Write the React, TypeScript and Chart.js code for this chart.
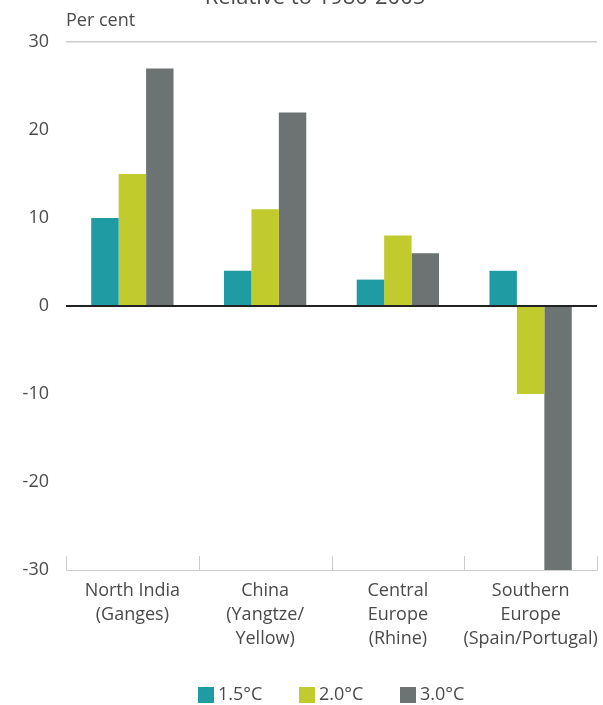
import React, { useEffect, useRef } from "react";
import { Chart, registerables } from "chart.js";

Chart.register(...registerables);

const categories: string[][] = [
  ["North India", "(Ganges)"],
  ["China", "(Yangtze/", "Yellow)"],
  ["Central", "Europe", "(Rhine)"],
  ["Southern", "Europe", "(Spain/Portugal)"],
];
const seriesNames = ["1.5°C", "2.0°C", "3.0°C"];
const values15 = [10, 4, 3, 4];
const values20 = [15, 11, 8, -10];
const values30 = [27, 22, 6, -30];
const yTicks = [-30, -20, -10, 0, 10, 20, 30];
const titleText = "Relative to 1980-2005";
const unitText = "Per cent";

const colors = ["#1f9ba3", "#c1cb2d", "#6d7372"];
const FONT = "'Open Sans', 'Noto Sans', sans-serif";
const TEXT = "#4a4a4a";

const extras = {
  id: "extras",
  afterDraw(chart: any) {
    const { ctx, chartArea, scales } = chart;
    ctx.save();
    // title (cut off at top)
    ctx.fillStyle = TEXT;
    ctx.font = `22px ${FONT}`;
    ctx.textAlign = "center";
    ctx.textBaseline = "alphabetic";
    ctx.fillText(titleText, 315, 4);
    // unit label
    ctx.font = `18px ${FONT}`;
    ctx.textAlign = "left";
    ctx.textBaseline = "middle";
    ctx.fillText(unitText, chartArea.left, 21);
    // category separator ticks going up from the bottom axis
    const x = scales.x;
    ctx.strokeStyle = "#cccccc";
    ctx.lineWidth = 1;
    const n = categories.length;
    const step = x.getPixelForTick(1) - x.getPixelForTick(0);
    for (let i = 0; i <= n; i++) {
      const px = i < n ? x.getPixelForTick(i) - step / 2 : chartArea.right;
      const xx = Math.round(px) + 0.5;
      ctx.beginPath();
      ctx.moveTo(xx, chartArea.bottom);
      ctx.lineTo(xx, chartArea.bottom - 14);
      ctx.stroke();
    }
    // legend
    const ds = chart.data.datasets;
    const startX = [198, 299, 400];
    const cy = 695;
    ctx.font = `18px ${FONT}`;
    ctx.textBaseline = "middle";
    ds.forEach((d: any, i: number) => {
      ctx.fillStyle = d.backgroundColor;
      ctx.fillRect(startX[i], cy - 8, 16, 16);
      ctx.fillStyle = TEXT;
      ctx.fillText(d.label, startX[i] + 20, cy);
    });
    ctx.restore();
  },
};

export default function App() {
  const ref = useRef<HTMLCanvasElement | null>(null);
  useEffect(() => {
    if (!ref.current) return;
    const chart = new Chart(ref.current, {
      type: "bar",
      data: {
        labels: categories,
        datasets: [values15, values20, values30].map((d, i) => ({
          label: seriesNames[i],
          data: d,
          backgroundColor: colors[i],
          borderWidth: 0,
          categoryPercentage: 0.62,
          barPercentage: 1,
        })),
      },
      options: {
        animation: false,
        responsive: false,
        maintainAspectRatio: false,
        layout: { padding: { top: 42, right: 6, left: 0, bottom: 0 } },
        plugins: {
          tooltip: { enabled: false },
          title: { display: false },
          legend: { display: false },
        },
        scales: {
          x: {
            afterFit: (s: any) => {
              s.height = 135;
              s.paddingLeft = 0;
              s.paddingRight = 0;
            },
            grid: { display: false, drawTicks: false },
            border: { display: true, color: "#cccccc", width: 1 },
            ticks: {
              color: TEXT,
              font: { family: FONT, size: 18, lineHeight: 1.333 },
              padding: 9,
              maxRotation: 0,
              autoSkip: false,
            },
          },
          y: {
            min: -30,
            max: 30,
            afterFit: (s: any) => {
              s.width = 66;
            },
            afterBuildTicks: (axis: any) => {
              axis.ticks = yTicks.map((v) => ({ value: v }));
            },
            grid: {
              drawTicks: false,
              color: (c: any) =>
                c.tick && c.tick.value === 0
                  ? "#222222"
                  : c.tick && c.tick.value === 30
                  ? "#cccccc"
                  : "rgba(0,0,0,0)",
              lineWidth: (c: any) => (c.tick && c.tick.value === 0 ? 2 : 1.5),
            },
            border: { display: false },
            ticks: {
              color: TEXT,
              font: { family: FONT, size: 18 },
              padding: 17,
            },
          },
        },
      },
      plugins: [extras],
    });
    return () => chart.destroy();
  }, []);
  return (
    <div style={{ position: "absolute", left: 0, top: 0, width: 603, height: 705, background: "#fff" }}>
      <canvas ref={ref} width={603} height={705} style={{ display: "block" }} />
    </div>
  );
}
